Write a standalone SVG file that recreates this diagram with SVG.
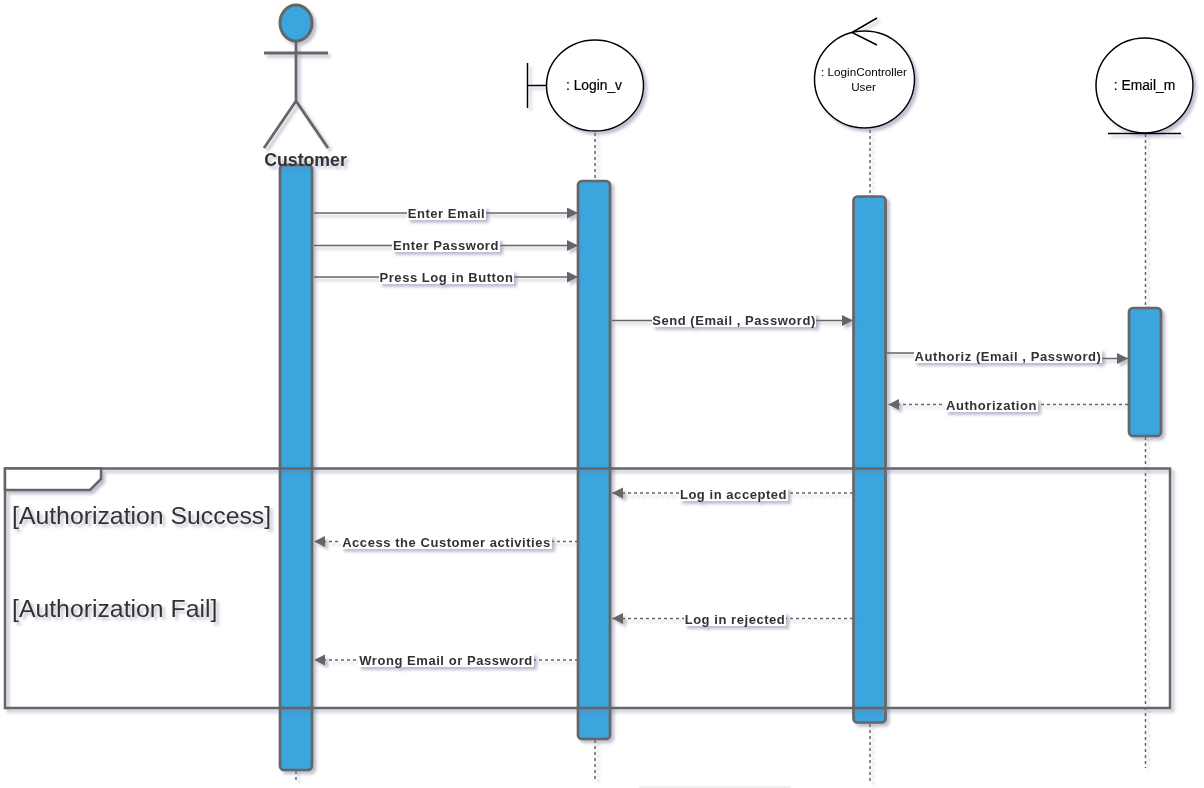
<svg xmlns="http://www.w3.org/2000/svg" width="1204" height="788" viewBox="0 0 1204 788">
<style>
text{font-family:"Liberation Sans",Arial,sans-serif;text-anchor:middle}
.bar{fill:#3aa5de;stroke:#666;stroke-width:2.700}
.life{fill:none;stroke:#666;stroke-width:1.500;stroke-dasharray:3 3}
.act{fill:none;stroke:#666;stroke-width:2.800}
.sym{fill:#fff;stroke:#000;stroke-width:1.500}
.symline{fill:none;stroke:#000;stroke-width:1.500}
.msg{fill:none;stroke:#666;stroke-width:1.500}
.ret{stroke-dasharray:3 3}
.lbl{font-size:13px;font-weight:bold;fill:#333;letter-spacing:.55px}
.lblbg{fill:#fff}
.name{font-size:13.800px;fill:#000;stroke:#000;stroke-width:.2}
.guard{font-size:24.800px;fill:#333;text-anchor:start}
.shadow{filter:url(#ds)}
</style>
<defs>
<filter id="ds" x="-20%" y="-20%" width="150%" height="150%" filterUnits="objectBoundingBox">
<feDropShadow dx="3" dy="3" stdDeviation="1.600" flood-color="#6f7398" flood-opacity=".45"/>
</filter>
<marker id="arr" markerUnits="userSpaceOnUse" markerWidth="13" markerHeight="13" refX="11" refY="5.500" orient="auto">
<path d="M0 0L11 5.500L0 11Z" fill="#666"/>
</marker>
</defs>
<rect x="638" y="786" width="153" height="6" rx="3" fill="#eee"/>
<g id="lifelines" class="shadow">
<path class="life" d="M296 771V781"/>
<path class="life" d="M595 133V181M595 740V781"/>
<path class="life" d="M870 130V196M870 724V781"/>
<path class="life" d="M1145.500 134V308M1145.500 437V768"/>
</g>
<g id="actor-customer" class="shadow">
<ellipse cx="296" cy="23" rx="16" ry="18" fill="#3aa5de" stroke="#666" stroke-width="3"/>
<path class="act" d="M296 41V101M264 53H328M264 148L296 101L328 148"/>
</g>
<g id="boundary-login" class="shadow">
<path class="symline" d="M527.500 63V108M527.500 85.500H547"/>
<ellipse class="sym" cx="595" cy="85.500" rx="48.500" ry="45.500"/>
<text class="name" x="594" y="90">: Login_v</text>
</g>
<g id="control-logincontroller" class="shadow">
<ellipse class="sym" cx="864.500" cy="79.500" rx="50" ry="48.500"/>
<path class="symline" d="M877 18L852 32.500L877 45"/>
<text x="864" y="76" font-size="11.700" fill="#000">: LoginController</text>
<text x="863.500" y="91" font-size="11.700" fill="#000">User</text>
</g>
<g id="entity-email" class="shadow">
<ellipse class="sym" cx="1144.500" cy="85.500" rx="48.500" ry="47.500"/>
<path class="symline" d="M1108 133.500H1181"/>
<text class="name" x="1144.500" y="90">: Email_m</text>
</g>
<g id="activation-customer"><rect class="bar shadow" x="280" y="165" width="32" height="605" rx="4"/></g>
<g id="activation-login"><rect class="bar shadow" x="578" y="181" width="32" height="558" rx="4"/></g>
<g id="activation-controller"><rect class="bar shadow" x="853.500" y="196.500" width="32" height="526" rx="4"/></g>
<g id="activation-email"><rect class="bar shadow" x="1129" y="308" width="32" height="128" rx="4"/></g>
<g id="label-customer" class="shadow"><text x="305.500" y="165.500" font-size="17.700" font-weight="bold" fill="#333">Customer</text></g>
<g id="frame" class="shadow">
<rect x="5" y="468.500" width="1165" height="239.500" fill="none" stroke="#666" stroke-width="2.500"/>
<path d="M5 468.500H101V479L90 490H5Z" fill="#fff" stroke="#666" stroke-width="2.500"/>
<text class="guard" x="12" y="524">[Authorization Success]</text>
<text class="guard" x="12" y="617">[Authorization Fail]</text>
</g>
<g id="connectors">
<g class="shadow">
<path class="msg" marker-end="url(#arr)" d="M314 213H578"/>
<path class="msg" marker-end="url(#arr)" d="M314 245.500H578"/>
<path class="msg" marker-end="url(#arr)" d="M314 277H578"/>
<path class="msg" marker-end="url(#arr)" d="M612 320.500H853"/>
<path class="msg" marker-end="url(#arr)" d="M887 353H1008V358.500H1128"/>
<path class="msg ret" marker-end="url(#arr)" d="M1128 404.500H888"/>
<path class="msg ret" marker-end="url(#arr)" d="M853 493H612"/>
<path class="msg ret" marker-end="url(#arr)" d="M578 541.500H314"/>
<path class="msg ret" marker-end="url(#arr)" d="M853 618.500H612"/>
<path class="msg ret" marker-end="url(#arr)" d="M578 660H314"/>
</g>
<g class="shadow">
<rect class="lblbg" x="407" y="206" width="79" height="14"/><text class="lbl" x="446.500" y="217.500">Enter Email</text>
<rect class="lblbg" x="392" y="238" width="108" height="14"/><text class="lbl" x="446" y="249.500">Enter Password</text>
<rect class="lblbg" x="379" y="270" width="135" height="14"/><text class="lbl" x="446.500" y="281.500">Press Log in Button</text>
<rect class="lblbg" x="652" y="313" width="164" height="14"/><text class="lbl" x="734" y="324.500">Send (Email , Password)</text>
<rect class="lblbg" x="914" y="349" width="188" height="14"/><text class="lbl" x="1008" y="360.500">Authoriz (Email , Password)</text>
<rect class="lblbg" x="945" y="398" width="93" height="14"/><text class="lbl" x="991.500" y="409.500">Authorization</text>
<rect class="lblbg" x="679" y="487" width="109" height="14"/><text class="lbl" x="733.500" y="498.500">Log in accepted</text>
<rect class="lblbg" x="341" y="535" width="211" height="14"/><text class="lbl" x="446.500" y="546.500">Access the Customer activities</text>
<rect class="lblbg" x="684" y="612" width="102" height="14"/><text class="lbl" x="735" y="623.500">Log in rejected</text>
<rect class="lblbg" x="358" y="653" width="176" height="14"/><text class="lbl" x="446" y="664.500">Wrong Email or Password</text>
</g>
</g>
</svg>
